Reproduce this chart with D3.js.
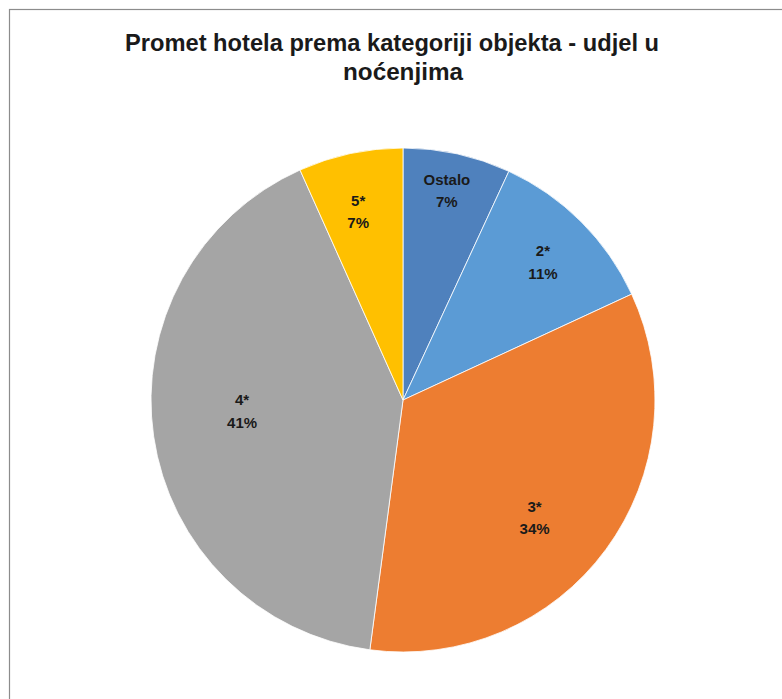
<!DOCTYPE html>
<html>
<head>
<meta charset="utf-8">
<script src="https://cdn.jsdelivr.net/npm/d3@7"></script>
<style>
  body { margin: 0; background: #fff; }
  svg { display: block; }
  text { font-family: "Liberation Sans", Arial, sans-serif; font-weight: bold; fill: #1a1a1a; }
</style>
</head>
<body>
<svg id="chart"></svg>
<script>
// data
var categories = ["Ostalo", "2*", "3*", "4*", "5*"];
var shares = [6.9, 11.2, 34.0, 41.2, 6.7];
var colors = ["#4f81bd", "#5b9bd5", "#ed7d31", "#a5a5a5", "#ffc000"];
var titleLines = ["Promet hotela prema kategoriji objekta - udjel u", "noćenjima"];

var width = 782, height = 699;
var cx = 403, cy = 400, radius = 252;
// label placement like excel "best fit": radius fraction + angle nudge (deg)
var labelPos = [0.85, 0.78, 0.70, 0.64, 0.77];
var labelNudge = [-0.6, 0.4, 5.4, 4.4, -1.3];

var svg = d3.select("#chart").attr("width", width).attr("height", height);

// chart area frame (right and bottom edges fall outside the picture)
svg.append("rect")
    .attr("x", 9.5).attr("y", 9.5)
    .attr("width", width + 20).attr("height", height + 20)
    .attr("fill", "none").attr("stroke", "#8c8c8c").attr("stroke-width", 1.2);

// title
var title = svg.append("g");
title.append("text")
    .attr("x", 392).attr("y", 51)
    .attr("text-anchor", "middle")
    .attr("font-size", 23)
    .attr("textLength", 534).attr("lengthAdjust", "spacingAndGlyphs")
    .text(titleLines[0]);
title.append("text")
    .attr("x", 403).attr("y", 80)
    .attr("text-anchor", "middle")
    .attr("font-size", 23)
    .attr("textLength", 120).attr("lengthAdjust", "spacingAndGlyphs")
    .text(titleLines[1]);

var data = categories.map(function(c, i) { return {name: c, value: shares[i], i: i}; });

var pie = d3.pie().sort(null).value(function(d) { return d.value; });
var arc = d3.arc().innerRadius(0).outerRadius(radius);

var g = svg.append("g").attr("transform", "translate(" + cx + "," + cy + ")");
var arcs = pie(data);

g.selectAll("path")
    .data(arcs)
    .enter().append("path")
    .attr("d", arc)
    .attr("fill", function(d) { return colors[d.data.i]; })
    .attr("stroke", "#fff")
    .attr("stroke-width", 0.8);

var labels = g.selectAll("g.lbl")
    .data(arcs)
    .enter().append("g")
    .attr("class", "lbl")
    .attr("transform", function(d) {
        var r = radius * labelPos[d.data.i];
        var a = (d.startAngle + d.endAngle) / 2 + labelNudge[d.data.i] * Math.PI / 180;
        return "translate(" + (Math.sin(a) * r) + "," + (-Math.cos(a) * r) + ")";
    });

labels.append("text")
    .attr("text-anchor", "middle")
    .attr("y", -5.5)
    .attr("font-size", 15)
    .text(function(d) { return d.data.name; });
labels.append("text")
    .attr("text-anchor", "middle")
    .attr("y", 17)
    .attr("font-size", 15)
    .text(function(d) { return Math.round(d.data.value) + "%"; });
</script>
</body>
</html>
